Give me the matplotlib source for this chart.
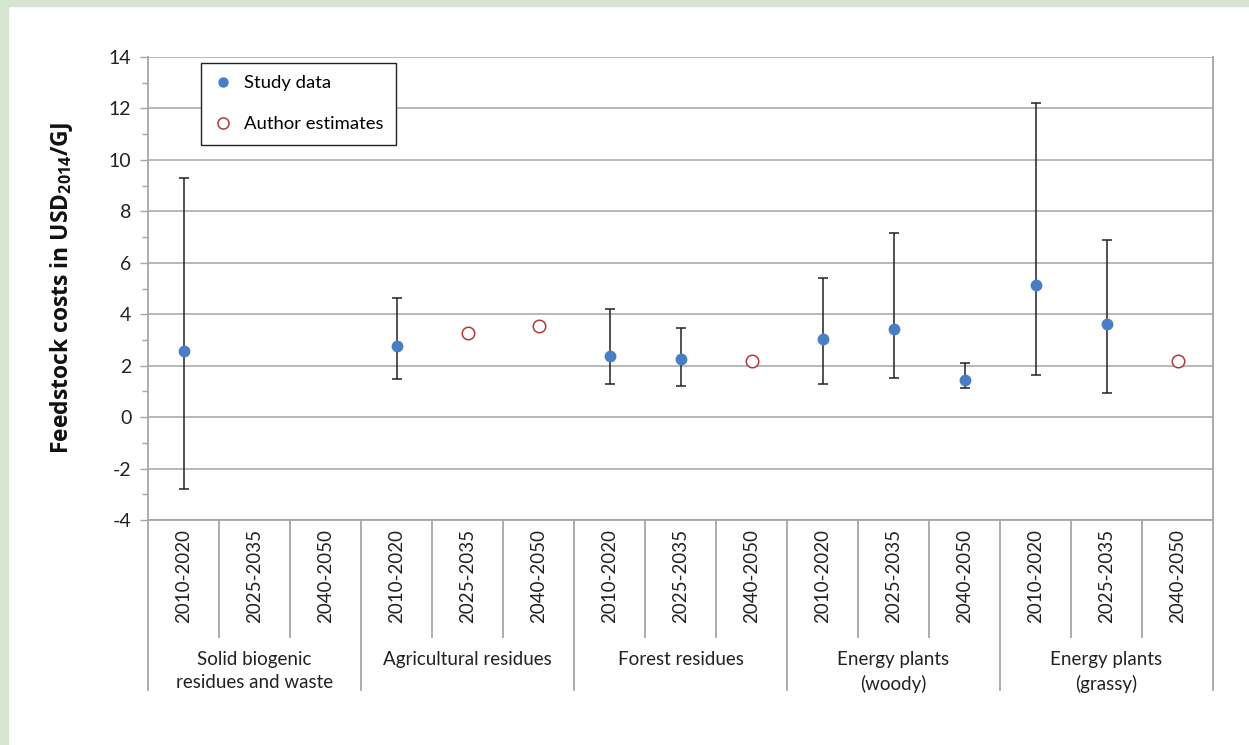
import matplotlib
matplotlib.use("Agg")
import matplotlib.pyplot as plt
import matplotlib.patches as mpatches
from matplotlib.lines import Line2D
import numpy as np

plt.rcParams.update({
    "font.family": ["Lato", "DejaVu Sans"],
    "font.size": 12.5,
    "axes.unicode_minus": False,
    "mathtext.fontset": "custom",
    "mathtext.rm": "Open Sans",
    "mathtext.bf": "Open Sans:bold",
})

# --- data -------------------------------------------------------------------
groups = ["Solid biogenic\nresidues and waste", "Agricultural residues",
          "Forest residues", "Energy plants\n(woody)", "Energy plants\n(grassy)"]
periods = ["2010-2020", "2025-2035", "2040-2050"]

# study data: slot index, value, lower end, upper end
study_idx = [0, 3, 6, 7, 9, 10, 11, 12, 13]
study_val = [2.58, 2.76, 2.37, 2.25, 3.04, 3.43, 1.45, 5.15, 3.61]
study_lo  = [-2.8, 1.48, 1.28, 1.20, 1.28, 1.52, 1.13, 1.62, 0.95]
study_hi  = [9.30, 4.63, 4.20, 3.47, 5.42, 7.15, 2.10, 12.20, 6.87]

# author estimates
auth_idx = [4, 5, 8, 14]
auth_val = [3.27, 3.54, 2.20, 2.18]

_BLUE = "#4a7ec4"
_RED  = "#b03a3a"
_GRID = "#a6a6a6"

fig = plt.figure(figsize=(12.49, 7.45), dpi=100)
W, H = 1249, 745

# pale green frame on the left and top
fig.patches.append(mpatches.Rectangle((0, 0), 8 / W, 1, transform=fig.transFigure,
                                      color="#d6e4d0", zorder=0))
fig.patches.append(mpatches.Rectangle((0, 1 - 6 / H), 1, 6 / H, transform=fig.transFigure,
                                      color="#d6e4d0", zorder=0))

x0, x1 = 148 / W, 1213 / W
ytop, ybot, ycat = 57, 520, 690
ax = fig.add_axes([x0, 1 - ybot / H, x1 - x0, (ybot - ytop) / H])
cx = fig.add_axes([x0, 1 - ycat / H, x1 - x0, (ycat - ybot) / H])

n_slots = len(groups) * len(periods)

# main panel
yerr = [np.array(study_val) - np.array(study_lo), np.array(study_hi) - np.array(study_val)]
ax.errorbar(study_idx, study_val, yerr=yerr, fmt="none", ecolor="#222222",
            elinewidth=1.1, capsize=3.5, capthick=1.1, zorder=3)
ax.plot(study_idx, study_val, "o", color=_BLUE, ms=7.5, mec=_BLUE, zorder=4)
ax.plot(auth_idx, auth_val, "o", mfc="white", mec=_RED, mew=1.1, ms=9, zorder=4)

ax.set_xlim(-0.5, n_slots - 0.5)
ax.set_ylim(-4, 14)
ax.set_yticks(np.arange(-4, 15, 2))
ax.set_yticks(np.arange(-3, 14, 2), minor=True)
ax.yaxis.grid(True, color=_GRID, lw=1.1)
ax.set_axisbelow(True)
ax.set_xticks([])
ax.tick_params(axis="y", which="both", direction="out", color=_GRID, width=1, pad=6)
ax.tick_params(axis="y", which="major", length=6, labelsize=14, labelcolor="#222222")
ax.tick_params(axis="y", which="minor", length=4)
for side in ["left", "right", "bottom"]:
    ax.spines[side].set_color(_GRID)
    ax.spines[side].set_linewidth(1.3)
ax.spines["top"].set_visible(False)

ax.set_ylabel("Feedstock costs in USD$_{\\mathbf{2014}}$/GJ", fontsize=16.5,
              family=["Open Sans", "DejaVu Sans"], fontweight="bold",
              labelpad=24, color="#111111")

handles = [
    Line2D([], [], ls="", marker="o", color=_BLUE, ms=6.5, label="Study data"),
    Line2D([], [], ls="", marker="o", mfc="white", mec=_RED, mew=1.1, ms=8,
           label="Author estimates"),
]
leg = ax.legend(handles=handles, loc="upper left", bbox_to_anchor=(0.0498, 0.988),
                frameon=True, fancybox=False, edgecolor="#222222", fontsize=13.3,
                labelspacing=1.35, borderpad=0.7, handletextpad=0.6,
                handlelength=1.0, borderaxespad=0)
leg.get_frame().set_linewidth(1.0)
leg.get_frame().set_alpha(1)

# category axis underneath
cx.set_xlim(-0.5, n_slots - 0.5)
cx.set_ylim(0, 1)
cx.axis("off")
inner_end = (ycat - 637) / (ycat - ybot)
for b in np.arange(0.5, n_slots - 0.5, 1):
    if (b + 0.5) % len(periods) == 0:
        cx.plot([b, b], [0, 1], color=_GRID, lw=1.3, clip_on=False)
    else:
        cx.plot([b, b], [inner_end, 1], color=_GRID, lw=1.3, clip_on=False)
for b in [-0.5, n_slots - 0.5]:
    cx.plot([b, b], [0, 1], color=_GRID, lw=1.3, clip_on=False)

for i in range(n_slots):
    cx.text(i, 0.945, periods[i % len(periods)], rotation=90, ha="center", va="top",
            fontsize=13.5, color="#222222")
for g, name in enumerate(groups):
    cx.text(g * len(periods) + 1, 0.23, name, ha="center", va="top",
            fontsize=13.5, color="#222222", linespacing=1.45)

fig.savefig("out.png", dpi=100)
